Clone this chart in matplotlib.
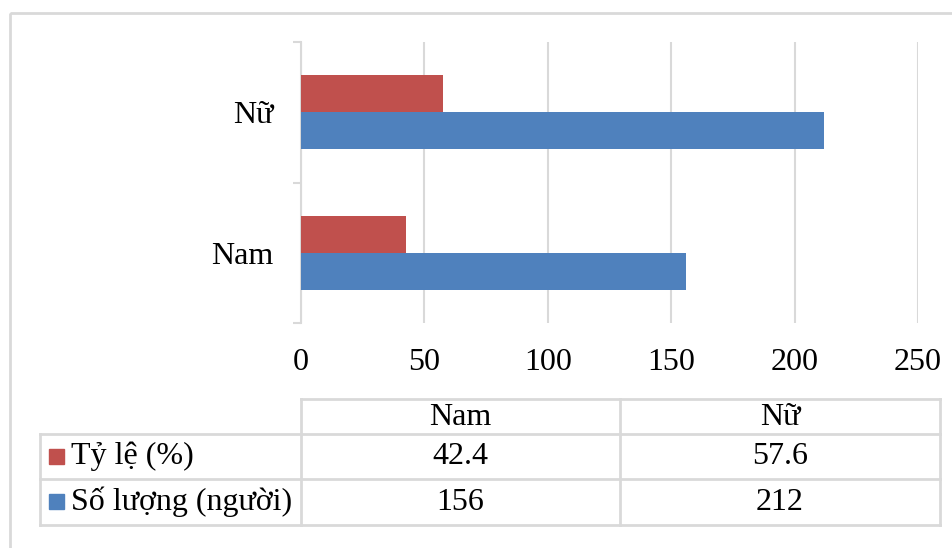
import matplotlib
matplotlib.use('Agg')
import matplotlib.pyplot as plt
from matplotlib.patches import Rectangle
from matplotlib.lines import Line2D

plt.rcParams['font.family'] = ['Liberation Serif', 'DejaVu Serif']

categories = ['Nam', 'Nữ']
series_names = ['Tỷ lệ (%)', 'Số lượng (người)']
ty_le = [42.4, 57.6]
so_luong = [156, 212]
xticks = [0, 50, 100, 150, 200, 250]

RED = '#C0504D'
BLUE = '#4F81BD'
GRID = '#D9D9D9'
FS = 23

W, H = 953, 548
fig = plt.figure(figsize=(W / 100, H / 100), dpi=100)

# full-figure overlay in pixel coords for the frame and the data table
over = fig.add_axes([0, 0, 1, 1])
over.set_xlim(0, W)
over.set_ylim(H, 0)
over.axis('off')
over.add_patch(Rectangle((10, 13), W + 20, H + 20, fill=False,
                         edgecolor=GRID, linewidth=2))

# bar chart
ax = fig.add_axes([301 / W, (H - 323) / H, (918 - 301) / W, (323 - 42) / H])
ax.set_zorder(2)
ax.patch.set_alpha(0)
h = 0.265
ypos = list(range(len(categories)))
ax.barh([y + h / 2 for y in ypos], ty_le, height=h, color=RED, zorder=3)
ax.barh([y - h / 2 for y in ypos], so_luong, height=h, color=BLUE, zorder=3)
ax.set_xlim(0, 250)
ax.set_ylim(-0.5, 1.5)
ax.set_xticks(xticks)
ax.set_xticklabels([str(v) for v in xticks], fontsize=FS)
ax.tick_params(axis='x', length=0, pad=18)
ax.set_yticks(ypos)
ax.set_yticklabels(categories, fontsize=FS)
ax.tick_params(axis='y', which='major', length=0, pad=20)
ax.set_yticks([-0.5, 0.5, 1.5], minor=True)
ax.tick_params(axis='y', which='minor', length=6, width=1.5, color=GRID)
ax.grid(axis='x', color=GRID, linewidth=1.5, zorder=0)
for s in ['top', 'right', 'bottom']:
    ax.spines[s].set_visible(False)
ax.spines['left'].set_color(GRID)
ax.spines['left'].set_linewidth(1.5)

# data table under the axis
col_x = [40, 301, 620, 940]
row_y = [399, 434, 479, 525]
lw = 2
over.add_line(Line2D([301, 940], [row_y[0], row_y[0]], color=GRID, lw=lw))
for y in row_y[1:]:
    over.add_line(Line2D([40, 940], [y, y], color=GRID, lw=lw))
over.add_line(Line2D([40, 40], [row_y[1], row_y[3]], color=GRID, lw=lw))
for x in col_x[1:]:
    over.add_line(Line2D([x, x], [row_y[0], row_y[3]], color=GRID, lw=lw))

for i, c in enumerate(categories):
    cx = (col_x[i + 1] + col_x[i + 2]) / 2
    over.text(cx, (row_y[0] + row_y[1]) / 2 + 1, c, ha='center', va='center', fontsize=FS)

rows = [ty_le, so_luong]
colors = [RED, BLUE]
for r, (name, vals, col) in enumerate(zip(series_names, rows, colors)):
    cy = (row_y[r + 1] + row_y[r + 2]) / 2
    over.add_patch(Rectangle((49, cy - 8), 15, 15, color=col))
    over.text(71, cy, name, ha='left', va='center', fontsize=FS)
    for i, v in enumerate(vals):
        cx = (col_x[i + 1] + col_x[i + 2]) / 2
        over.text(cx, cy, str(v), ha='center', va='center', fontsize=FS)

fig.savefig('out.png', dpi=100)
